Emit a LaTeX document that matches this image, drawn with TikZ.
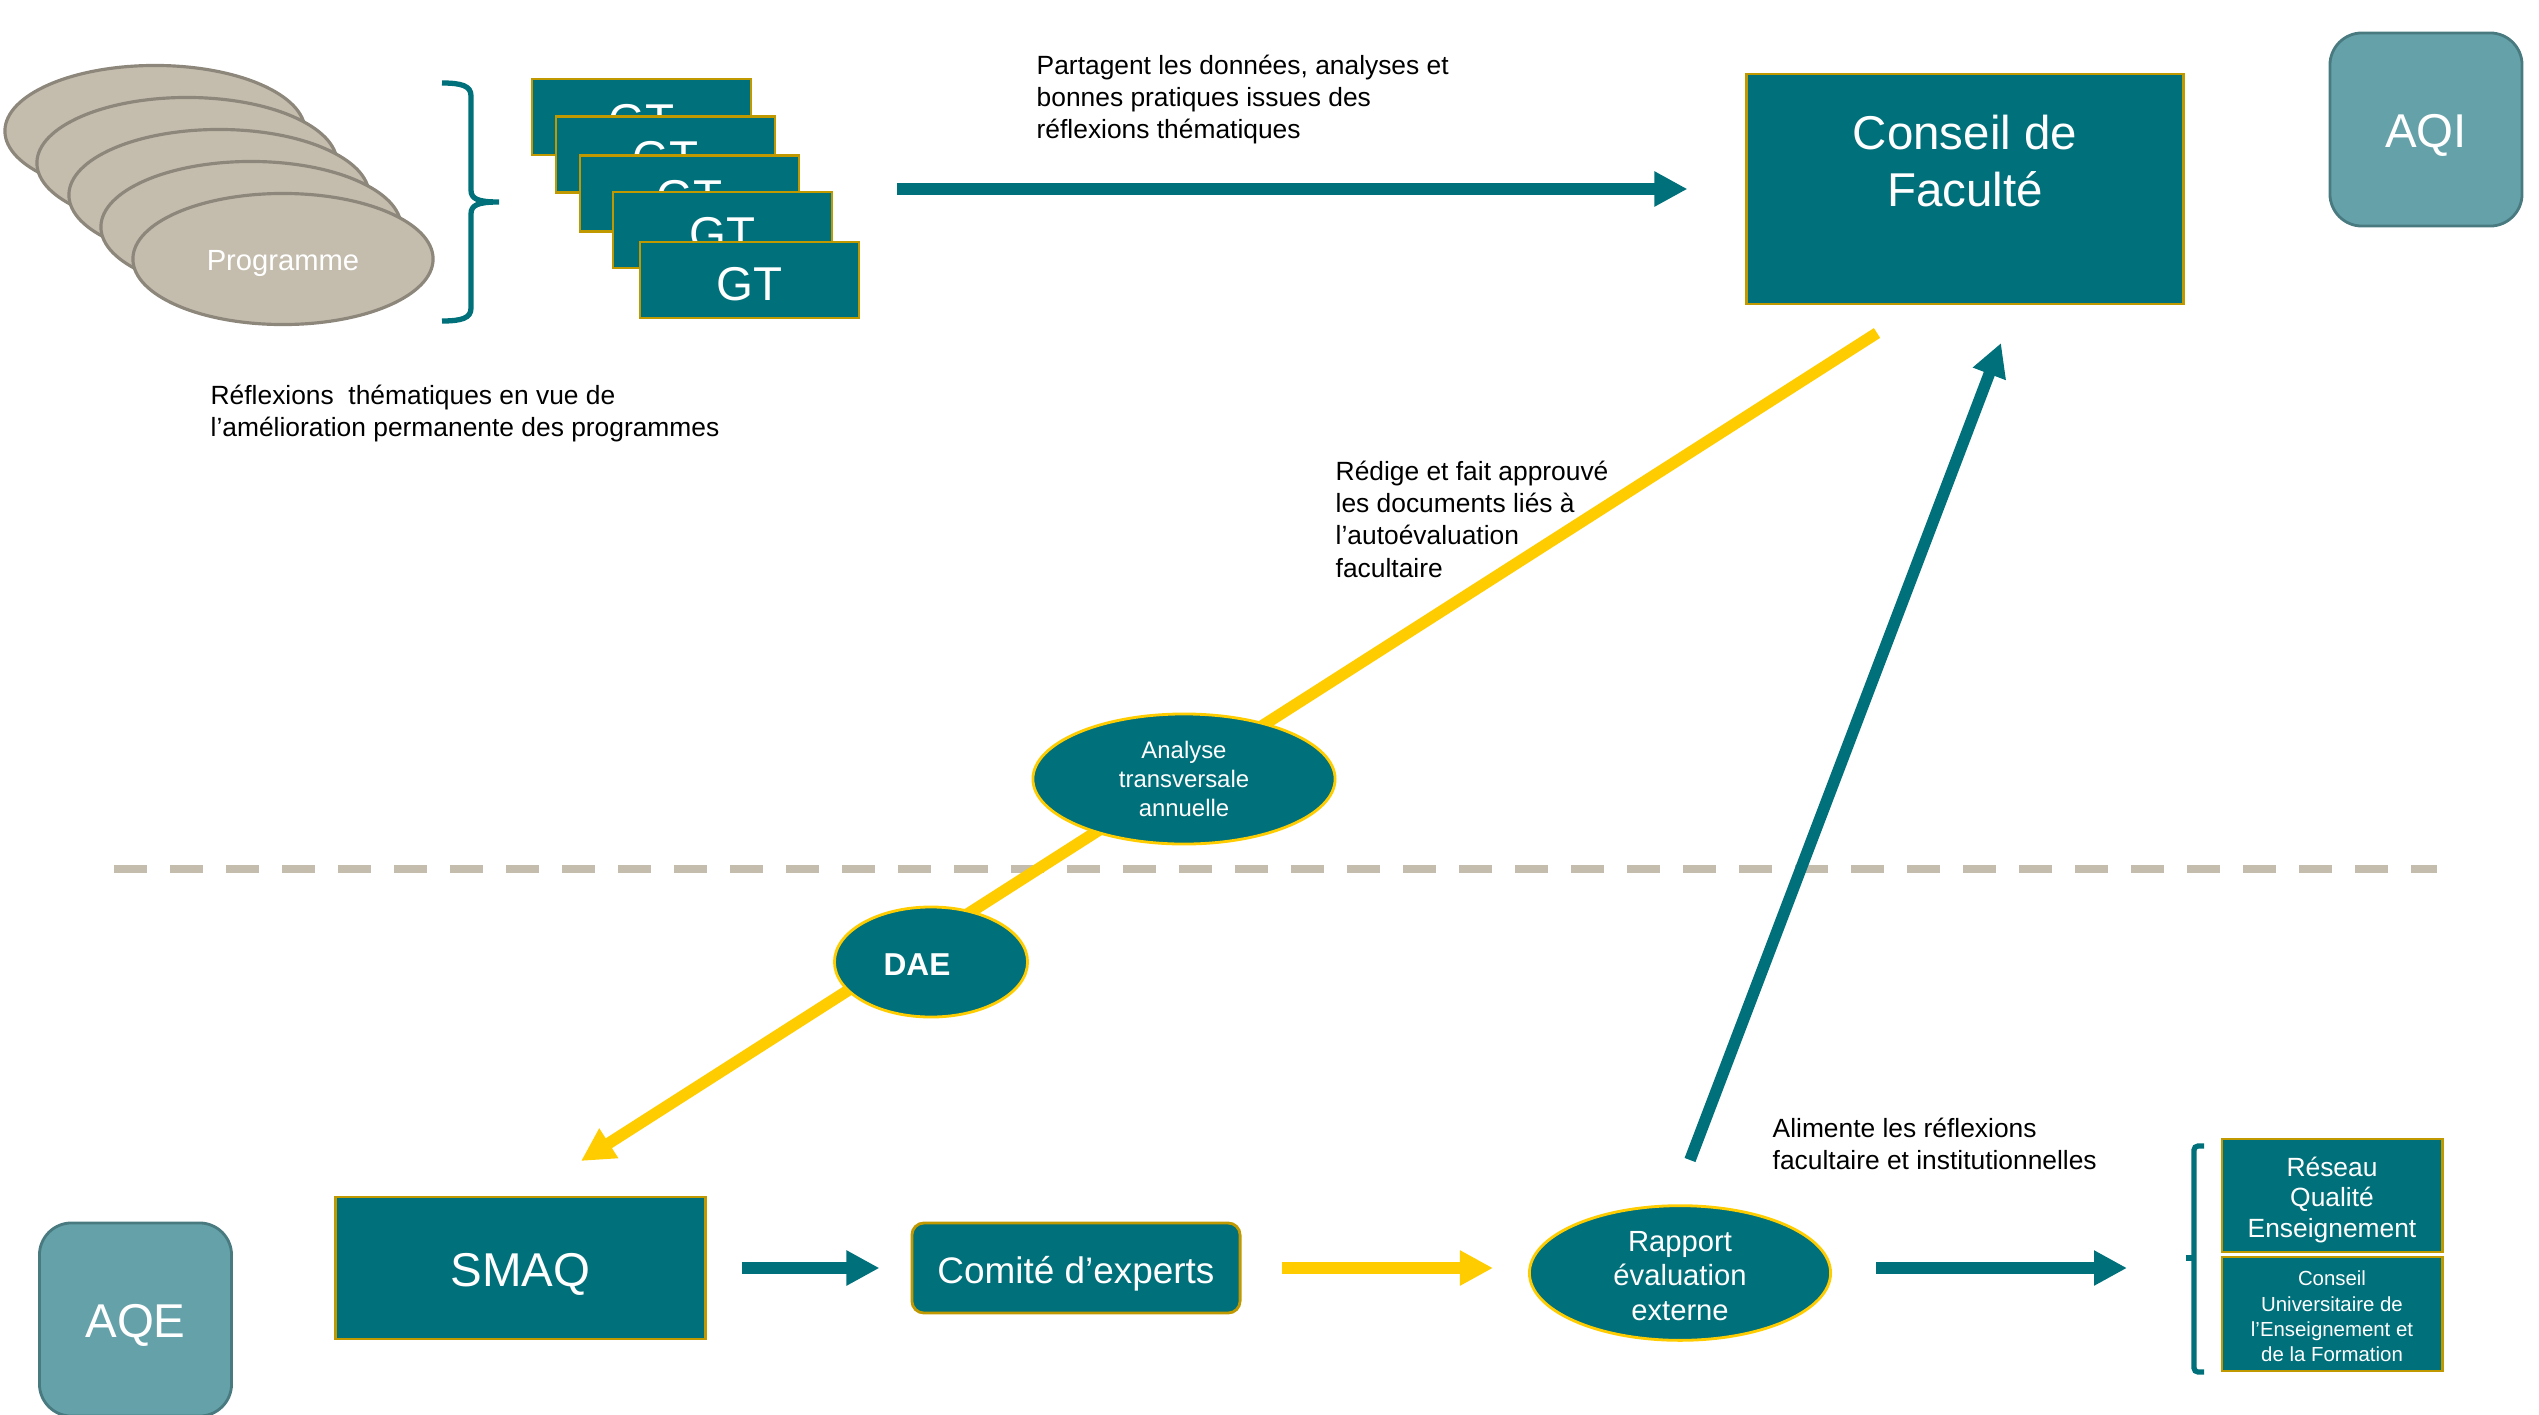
\documentclass[tikz,border=0pt]{standalone}
\usepackage{fontspec}
\setmainfont{Liberation Sans}
\usetikzlibrary{arrows.meta,shapes.geometric}

\definecolor{tealmain}{RGB}{0,112,122}
\definecolor{tealsoft}{RGB}{100,161,169}
\definecolor{tealedge}{RGB}{72,122,128}
\definecolor{gold}{RGB}{192,153,0}
\definecolor{sun}{RGB}{255,204,0}
\definecolor{sand}{RGB}{196,189,174}
\definecolor{sandedge}{RGB}{140,134,123}

\newcommand{\topgap}[1]{\rule{0pt}{#1}}

\begin{document}
\begin{tikzpicture}
   [x={(0.01cm,0cm)},y={(0cm,-0.01cm)},
   every node/.style={inner sep=0pt},
   bigtext/.style={font=\fontsize{13.5}{16.2}\selectfont,text height=11.8pt,text depth=1.35pt},
   progoval/.style={ellipse,draw=sandedge,fill=sand,line width=0.9pt,
      minimum width=3cm,minimum height=1.31cm,text=white,
      font=\fontsize{8.3}{10}\selectfont,text height=7.6pt,text depth=0.83pt},
   gtbox/.style={draw=gold,fill=tealmain,line width=0.8pt,
      minimum width=2.19cm,minimum height=0.76cm,text=white,bigtext,text height=12.8pt},
   tealbox/.style={draw=gold,fill=tealmain,line width=0.8pt,text=white,align=center},
   softbox/.style={draw=tealedge,fill=tealsoft,line width=0.8pt,rounded corners=0.32cm,
      minimum width=1.92cm,minimum height=1.93cm,text=white,bigtext},
   tealoval/.style={ellipse,draw=sun,fill=tealmain,line width=0.8pt,text=white,align=center},
   notetext/.style={anchor=north west,align=left,font=\fontsize{7.5}{9.2}\selectfont},
   tealarrow/.style={draw=tealmain,line width=3.3pt,-{Triangle[length=0.33cm,width=0.33cm]}},
   sunarrow/.style={draw=sun,line width=3.3pt,-{Triangle[length=0.33cm,width=0.33cm]}},
   bracketline/.style={draw=tealmain,line width=1.5pt},
   divider/.style={draw=sand,line width=0.08cm,dash pattern=on 0.33cm off 0.23cm}]

   \useasboundingbox (0,0) rectangle (2539,1415);

   \draw[divider] (114,869) -- (2437,869);

   \coordinate (draftA) at (1877,333);
   \coordinate (draftB) at (581,1161);
   \draw[sunarrow] (draftA) -- (draftB);

   \coordinate (feedA) at (1690,1160);
   \coordinate (feedB) at (2001,343);
   \draw[tealarrow] (feedA) -- (feedB);

   \node[progoval] (p1) at (155,131) {};
   \node[progoval] (p2) at (187,163) {};
   \node[progoval] (p3) at (219,195) {};
   \node[progoval] (p4) at (251,227) {};
   \node[progoval] (p5) at (283,259) {Programme};

   \draw[bracketline] (442,83) .. controls (462,83) and (471,86) .. (471,96) -- (471,190)
      .. controls (471,199) and (478,202) .. (499,202)
      .. controls (478,202) and (471,205) .. (471,214) -- (471,308)
      .. controls (471,318) and (462,321) .. (442,321);

   \node[gtbox] (g1) at (641.5,117)   {GT};
   \node[gtbox] (g2) at (665.5,154.5) {GT};
   \node[gtbox] (g3) at (689.5,193.5) {GT};
   \node[gtbox] (g4) at (722.5,230)   {GT};
   \node[gtbox] (g5) at (749.5,280)   {GT};

   \node[notetext] (programtext) at (210,384)
      {Réflexions~ thématiques en vue de\\l’amélioration permanente des programmes};

   \node[tealbox,minimum width=4.36cm,minimum height=2.3cm,
      font=\fontsize{13.5}{16.2}\selectfont] (conseil) at (1965,189) {Conseil de\\Faculté\\~};
   \node[softbox] (aqi) at (2426,129.5) {AQI};

   \node[notetext] (sharetext) at (1036,54)
      {Partagent les données, analyses et\\bonnes pratiques issues des\\réflexions thématiques};
   \coordinate (shareA) at (897,189);
   \draw[tealarrow,shorten >=0.58cm] (shareA) -- (conseil.west);

   \node[notetext] (drafttext) at (1335,460)
      {Rédige et fait approuvé\\les documents liés à\\l’autoévaluation\\facultaire};

   \node[tealoval,minimum width=3.02cm,minimum height=1.3cm,
      font=\fontsize{6.8}{8.2}\selectfont] (analyse) at (1184,779) {Analyse\\transversale\\annuelle};
   \node[tealoval,minimum width=1.93cm,minimum height=1.1cm,align=left,
      font=\fontsize{9}{11}\selectfont\bfseries,text height=8.3pt,text depth=0.9pt]
      (dae) at (931,962) {DAE\hspace*{0.28cm}};

   \node[softbox] (aqe) at (135.5,1319.5) {AQE};
   \node[tealbox,bigtext,minimum width=3.69cm,minimum height=1.42cm] (smaq) at (520.5,1268) {SMAQ};
   \node[tealbox,rounded corners=0.12cm,minimum width=3.28cm,minimum height=0.9cm,
      font=\fontsize{10.5}{12.6}\selectfont,text height=9.6pt,text depth=1.05pt]
      (comite) at (1076,1268) {Comité d’experts};
   \node[tealoval,minimum width=3.01cm,minimum height=1.3cm,
      font=\fontsize{8.3}{9.8}\selectfont] (rapport) at (1680,1273)
      {\topgap{7.4pt}Rapport\\évaluation\\externe};

   \draw[tealarrow,shorten <=0.35cm,shorten >=0.31cm] (smaq) -- (comite);
   \draw[sunarrow,shorten <=0.4cm,shorten >=0.35cm] (comite.east) -- (comite.east -| rapport.west);
   \coordinate (bodyTip) at (2127,1268);
   \draw[tealarrow,shorten <=0.44cm] (rapport.east |- bodyTip) -- (bodyTip);

   \node[notetext] (feedtext) at (1772,1117)
      {Alimente les réflexions\\facultaire et institutionnelles};

   \draw[bracketline,rounded corners=0.04cm] (2204,1146) -- (2194,1146) -- (2194,1372) -- (2204,1372);
   \draw[bracketline] (2194,1258) -- (2186,1258);

   \node[tealbox,minimum width=2.2cm,minimum height=1.13cm,
      font=\fontsize{7.5}{8.7}\selectfont] (reseau) at (2332,1195.5)
      {\topgap{8pt}Réseau\\Qualité\\Enseignement};
   \node[tealbox,minimum width=2.2cm,minimum height=1.14cm,
      font=\fontsize{5.8}{7.2}\selectfont] (cuef) at (2332,1314)
      {\topgap{5.6pt}Conseil\\Universitaire de\\l’Enseignement et\\de la Formation};
 \end{tikzpicture}
\end{document}
